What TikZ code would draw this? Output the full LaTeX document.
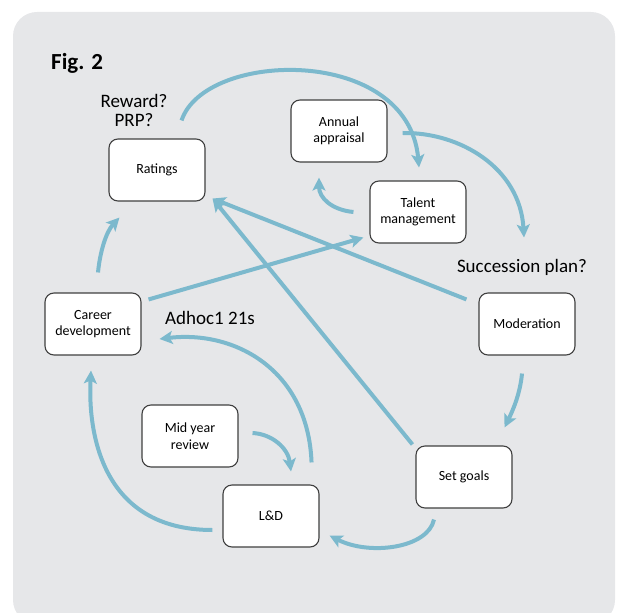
\documentclass[tikz,border=0pt]{standalone}
\usepackage{fontspec}
\setmainfont{Carlito}
\usetikzlibrary{arrows.meta, positioning, calc}
\definecolor{FlowBlue}{RGB}{124, 185, 205}
\definecolor{PanelGrey}{RGB}{230, 231, 233}
\definecolor{BoxEdge}{RGB}{64, 64, 64}

\begin{document}
\begin{tikzpicture}[x=1pt, y=-1pt,
        box/.style={rectangle, rounded corners=9pt, draw=BoxEdge, line width=1.1pt, fill=white, minimum width=96pt, minimum height=62pt, align=center, font=\fontsize{14}{16.5}\selectfont},
        flow/.style={-{Stealth[length=13pt, width=13pt, inset=3pt]}, line width=4pt, FlowBlue},
        note/.style={inner sep=0pt, font=\fontsize{19}{19}\selectfont}
    ]
        \useasboundingbox (0,0) rectangle (617,612);
        \fill[PanelGrey, rounded corners=24pt] (13,12) rectangle (615,624);

        % Title and loose notes
        \node[inner sep=0pt, anchor=base west, font=\bfseries\fontsize{23}{23}\selectfont] (title) at (51,70) {Fig. 2};
        \node[note, align=center] (reward) at (134,110) {Reward?\\PRP?};
        \node[note, anchor=base] (succession) at (522,272) {Succession plan?};
        \node[note, anchor=base] (adhoc) at (210,324) {Adhoc1 21s};

        % Steps of the cycle
        \node[box] (ratings) at (157,170) {Ratings};
        \node[box] (annual) at (339,131) {Annual\\appraisal};
        \node[box] (talent) at (418,212) {Talent\\management};
        \node[box] (moderation) at (527,324) {Moderation};
        \node[box] (career) at (93,324) {Career\\development};
        \node[box] (midyear) at (190,436) {Mid year\\review};
        \node[box] (ld) at (271,516) {L\&D};
        \node[box] (setgoals) at (464,477) {Set goals};

        % Outer arcs
        \draw[flow] ($(ratings.north east)+(-24,-18)$) .. controls (205,50) and (408,45) .. ($(talent.north)+(1,-13)$);
        \draw[flow] ($(annual.east)+(15,2)$) .. controls (460,132) and (520,168) .. ($(moderation.north)+(-3,-55)$);
        \draw[flow] ($(talent.west)+(-16,0)$) .. controls (332,210) and (319,198) .. ($(annual.south)+(-20,15)$);
        \draw[flow] ($(moderation.south)+(-5,18)$) .. controls (520,395) and (512,412) .. ($(setgoals.north east)+(-8,-18)$);
        \draw[flow] ($(setgoals.south)+(-30,11)$) .. controls (428,548) and (370,556) .. ($(ld.south east)+(10,-12)$);
        \draw[flow] ($(ld.west)+(-10,14)$) .. controls (100,530) and (88,430) .. ($(career.south)+(-2,15)$);
        \draw[flow] ($(career.north)+(5,-20)$) .. controls (100,252) and (106,232) .. ($(ratings.south west)+(11,16)$);

        % Inner links
        \draw[flow] ($(ld.north east)+(-8,-22)$) .. controls (308,370) and (235,330) .. ($(career.east)+(18,15)$);
        \draw[flow] ($(midyear.east)+(14,-3)$) .. controls (272,434) and (288,448) .. ($(ld.north)+(20,-13)$);
        \draw[flow] ($(moderation.north west)+(-12,7)$) -- ($(ratings.south east)+(7,-3)$);
        \draw[flow] ($(setgoals.north west)+(-3,-1)$) -- ($(ratings.south east)+(7,-3)$);
        \draw[flow] ($(career.north east)+(7,7)$) -- ($(talent.south west)+(-6,-6)$);
    \end{tikzpicture}
\end{document}
